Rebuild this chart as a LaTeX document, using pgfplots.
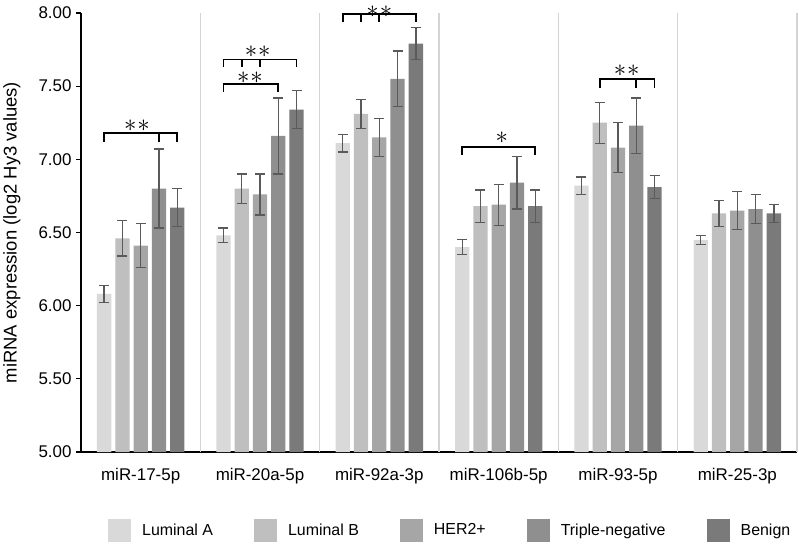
\documentclass[border=0pt]{standalone}
\usepackage{pgfplots}
\pgfplotsset{compat=1.18}
\usepackage{pgfplotstable}
\usepackage{fontspec}
\setmainfont{Liberation Sans}
\definecolor{cA}{HTML}{D9D9D9}
\definecolor{cB}{HTML}{BFBFBF}
\definecolor{cC}{HTML}{A6A6A6}
\definecolor{cD}{HTML}{8F8F8F}
\definecolor{cE}{HTML}{7A7A7A}
\definecolor{eb}{HTML}{5A5A5A}
\definecolor{sep}{HTML}{D4D4D4}

\pgfplotstableread{
x y e
0 6.08 0.06
1 6.48 0.05
2 7.11 0.06
3 6.40 0.05
4 6.82 0.06
5 6.45 0.03
}\lumA
\pgfplotstableread{
x y e
0 6.46 0.12
1 6.80 0.10
2 7.31 0.10
3 6.68 0.11
4 7.25 0.14
5 6.63 0.09
}\lumB
\pgfplotstableread{
x y e
0 6.41 0.15
1 6.76 0.14
2 7.15 0.13
3 6.69 0.14
4 7.08 0.17
5 6.65 0.13
}\her
\pgfplotstableread{
x y e
0 6.80 0.27
1 7.16 0.26
2 7.55 0.19
3 6.84 0.18
4 7.23 0.19
5 6.66 0.10
}\tn
\pgfplotstableread{
x y e
0 6.67 0.13
1 7.34 0.13
2 7.79 0.11
3 6.68 0.11
4 6.81 0.08
5 6.63 0.06
}\ben

\pgfplotsset{
  mybar/.style={ybar, bar width=14.3bp, bar shift=0pt, draw=none,
    legend image code/.code={\fill[##1, draw=none] (0bp,-11.5bp) rectangle (23bp,11.5bp);},
    /pgfplots/error bars/y dir=both,
    /pgfplots/error bars/y explicit,
    /pgfplots/error bars/error bar style={color=eb, line width=1.3bp},
    /pgfplots/error bars/error mark options={rotate=90, mark size=5bp, line width=1.3bp, color=eb}},
  brk/.style={black, line width=1.7bp, sharp plot, no marks, forget plot},
}
\newcommand{\twostars}{{\fontsize{23}{23}\selectfont$\ast$\kern1bp$\ast$}}
\newcommand{\onestar}{{\fontsize{23}{23}\selectfont$\ast$}}

\begin{document}
\begin{tikzpicture}
\begin{axis}[
  at={(0,0)}, anchor=south west,
  scale only axis, width=716bp, height=439bp,
  xmin=-0.5, xmax=5.5, ymin=5, ymax=8,
  clip=false,
  axis x line*=bottom, axis y line*=left,
  x axis line style={line width=1.8bp, -},
  y axis line style={line width=1.2bp, -},
  xtick={0,1,2,3,4,5},
  xticklabels={miR-17-5p,miR-20a-5p,miR-92a-3p,miR-106b-5p,miR-93-5p,miR-25-3p},
  x tick style={draw=none},
  extra x ticks={0.5,1.5,2.5,3.5,4.5,5.5},
  extra x tick labels={},
  extra x tick style={grid=major, major grid style={color=sep, line width=1.2bp}, tick style={draw=none}},
  ytick={5,5.5,6,6.5,7,7.5,8},
  y tick style={black, line width=1.2bp},
  tick align=outside, major tick length=5bp,
  yticklabel style={/pgf/number format/.cd, fixed, fixed zerofill, precision=2, /tikz/.cd, font=\fontsize{17}{19}\selectfont, xshift=-1bp},
  /pgf/number format/assume math mode=true,
  xticklabel style={font=\fontsize{17}{19}\selectfont, yshift=-8bp},
  ylabel={miRNA expression (log2 Hy3 values)},
  ylabel style={font=\fontsize{18.5}{20}\selectfont, at={(axis description cs:-0.0964,0.5)}, anchor=center},
  legend columns=5,
  legend cell align=left,
  legend style={draw=none, fill=none, at={(axis description cs:0.0377,-0.178)}, anchor=west,
    inner sep=0pt, font=\fontsize{16}{18}\selectfont,
    nodes={inner sep=0pt},
    /tikz/every odd column/.append style={column sep=11bp},
    /tikz/every even column/.append style={column sep=41bp}},
]
\addplot[mybar, fill=cA] table[x expr=\thisrow{x}-0.306, y=y, y error=e] {\lumA};
\addlegendentry{Luminal A}
\addplot[mybar, fill=cB] table[x expr=\thisrow{x}-0.153, y=y, y error=e] {\lumB};
\addlegendentry{Luminal B}
\addplot[mybar, fill=cC] table[x=x, y=y, y error=e] {\her};
\addlegendentry{HER2+}
\addplot[mybar, fill=cD] table[x expr=\thisrow{x}+0.153, y=y, y error=e] {\tn};
\addlegendentry{Triple-negative}
\addplot[mybar, fill=cE] table[x expr=\thisrow{x}+0.306, y=y, y error=e] {\ben};
\addlegendentry{Benign}

% significance brackets
\addplot[brk] coordinates {(-0.306,7.12) (-0.306,7.178) (0.306,7.178) (0.306,7.12)};
\addplot[brk] coordinates {(0.153,7.178) (0.153,7.12)};
\node[inner sep=0pt] at (axis cs:-0.031,7.228) {\twostars};

\addplot[brk] coordinates {(0.694,7.633) (0.694,7.683) (1.306,7.683) (1.306,7.633)};
\addplot[brk] coordinates {(0.847,7.683) (0.847,7.633)};
\addplot[brk] coordinates {(1.0,7.683) (1.0,7.633)};
\node[inner sep=0pt] at (axis cs:0.981,7.734) {\twostars};
\addplot[brk] coordinates {(0.694,7.46) (0.694,7.515) (1.153,7.515) (1.153,7.46)};
\node[inner sep=0pt] at (axis cs:0.916,7.559) {\twostars};

\addplot[brk] coordinates {(1.694,7.94) (1.694,7.993) (2.306,7.993) (2.306,7.94)};
\addplot[brk] coordinates {(1.847,7.993) (1.847,7.94)};
\addplot[brk] coordinates {(2.0,7.993) (2.0,7.94)};
\node[inner sep=0pt] at (axis cs:2.0,8.006) {\twostars};

\addplot[brk] coordinates {(2.694,7.03) (2.694,7.082) (3.306,7.082) (3.306,7.03)};
\node[inner sep=0pt] at (axis cs:3.026,7.149) {\onestar};

\addplot[brk] coordinates {(3.847,7.49) (3.847,7.549) (4.306,7.549) (4.306,7.49)};
\addplot[brk] coordinates {(4.153,7.549) (4.153,7.49)};
\node[inner sep=0pt] at (axis cs:4.073,7.604) {\twostars};
\end{axis}
\pgfresetboundingbox
\path[use as bounding box] (-81bp,-92bp) rectangle (718bp,452bp);
\end{tikzpicture}
\end{document}
